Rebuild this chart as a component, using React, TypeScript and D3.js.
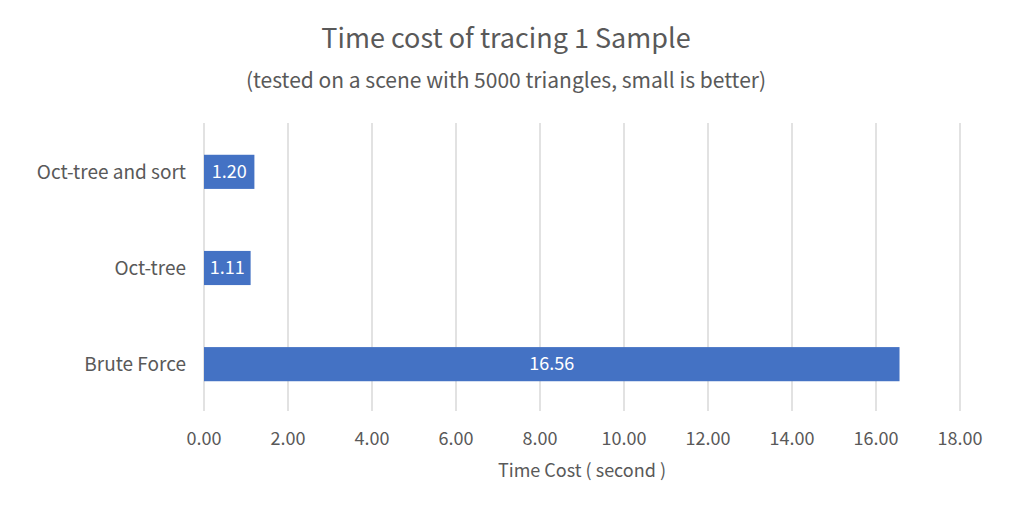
import React from "react";
import * as d3 from "d3";

const categories = ["Oct-tree and sort", "Oct-tree", "Brute Force"];
const values = [1.2, 1.11, 16.56];
const ticks = [0, 2, 4, 6, 8, 10, 12, 14, 16, 18];

export default function App() {
  const W = 1013, H = 511;
  const x = d3.scaleLinear().domain([0, 18]).range([204, 960]);
  const y = d3.scaleBand().domain(categories).range([124, 412]).paddingInner(0.645).paddingOuter(0.32);
  const font = "'Noto Sans CJK SC', 'Noto Sans', sans-serif";
  const txt = "#595959";
  return (
    <svg width={W} height={H} style={{ position: "absolute", left: 0, top: 0, background: "#fff", fontFamily: font }}>
      <text x={506} y={48} textAnchor="middle" fontSize={27} fill={txt}>Time cost of tracing 1 Sample</text>
      <text x={506} y={88} textAnchor="middle" fontSize={21} fill={txt}>(tested on a scene with 5000 triangles, small is better)</text>
      {ticks.map(t => (
        <g key={t}>
          <line x1={x(t)} x2={x(t)} y1={123} y2={411} stroke="#d9d9d9" strokeWidth={1.5} />
          <text x={x(t)} y={445} textAnchor="middle" fontSize={18} fill={txt}>{t.toFixed(2)}</text>
        </g>
      ))}
      {categories.map((c, i) => (
        <g key={c}>
          <rect x={x(0)} y={y(c)} width={x(values[i]) - x(0)} height={y.bandwidth()} fill="#4472C4" />
          <text x={(x(0) + x(values[i])) / 2} y={y(c)! + y.bandwidth() / 2 + 6} textAnchor="middle" fontSize={18} fill="#fff">{values[i].toFixed(2)}</text>
          <text x={186} y={y(c)! + y.bandwidth() / 2 + 7} textAnchor="end" fontSize={19} fill={txt}>{c}</text>
        </g>
      ))}
      <text x={582} y={477} textAnchor="middle" fontSize={18} fill={txt}>Time Cost ( second )</text>
    </svg>
  );
}
